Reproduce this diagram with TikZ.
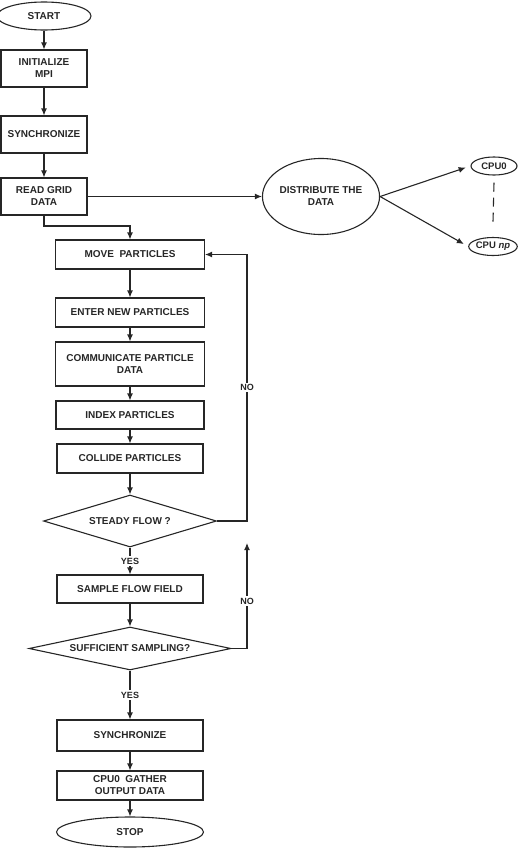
\documentclass[tikz,border=0pt]{standalone}
\usepackage{fontspec}
\setmainfont{Liberation Sans}
\usetikzlibrary{shapes.geometric,arrows.meta}

\begin{document}
\begin{tikzpicture}[x=1pt, y=-1pt, line width=1.1pt, color=black!85,
  every node/.style={font=\fontsize{10}{12}\selectfont\bfseries, align=center},
  box/.style={draw, rectangle, inner sep=0pt},
  term/.style={draw, ellipse, inner sep=0pt},
  decide/.style={draw, diamond, inner sep=0pt},
  arr/.style={-{Latex[length=7pt,width=6pt]}},
  lbl/.style={fill=white, inner sep=1.5pt, font=\fontsize{9}{11}\selectfont\bfseries}]
  \useasboundingbox (0,0) rectangle (519,857);

  \node[term, minimum width=94pt, minimum height=28pt] (start) at (44,16) {START};
  \node[box, minimum width=86pt, minimum height=37pt] (init) at (44,68.5) {INITIALIZE\\MPI};
  \node[box, minimum width=86pt, minimum height=37pt] (syncA) at (44,134.5) {SYNCHRONIZE};
  \node[box, minimum width=86pt, minimum height=37pt] (read) at (44,196.5) {READ GRID\\DATA};
  \coordinate (bend) at (44,226);

  \node[term, minimum width=102pt, minimum height=76pt] (dist) at (321,196.5) {DISTRIBUTE THE\\DATA};
  \node[term, minimum width=46pt, minimum height=18pt, font=\fontsize{9.5}{11}\selectfont\bfseries] (cpuA) at (494,166) {CPU0};
  \node[term, minimum width=48pt, minimum height=18pt, font=\fontsize{9.5}{11}\selectfont\bfseries] (cpuB) at (493,246.5) {CPU \textit{np}};

  \node[box, minimum width=149pt, minimum height=29pt] (move) at (130,254.5) {MOVE\ \ PARTICLES};
  \node[box, minimum width=149pt, minimum height=29pt] (enter) at (130,312.5) {ENTER NEW PARTICLES};
  \node[box, minimum width=149pt, minimum height=44pt] (comm) at (130,364) {COMMUNICATE PARTICLE\\DATA};
  \node[box, minimum width=148pt, minimum height=28pt] (index) at (130,415) {INDEX PARTICLES};
  \node[box, minimum width=146pt, minimum height=29pt] (collide) at (130,458.5) {COLLIDE PARTICLES};
  \node[decide, aspect=3.3, minimum width=173pt, minimum height=52pt] (steady) at (130,521) {STEADY FLOW ?};
  \node[box, minimum width=146pt, minimum height=28pt] (sample) at (130,589) {SAMPLE FLOW FIELD};
  \node[decide, aspect=4.7, minimum width=202pt, minimum height=43pt] (suff) at (130,648.5) {SUFFICIENT SAMPLING?};
  \node[box, minimum width=146pt, minimum height=31pt] (syncB) at (130,735.5) {SYNCHRONIZE};
  \node[box, minimum width=146pt, minimum height=29pt] (gather) at (130,785.5) {CPU0\ \ GATHER\\OUTPUT DATA};
  \node[term, minimum width=147pt, minimum height=30pt] (stop) at (130,832) {STOP};

  \coordinate (loopA) at (247,521);
  \coordinate (loopC) at (247,648.5);
  \coordinate (loopD) at (247,543);

  \draw[arr] (start) -- (init);
  \draw[arr] (init) -- (syncA);
  \draw[arr] (syncA) -- (read);
  \draw[arr] (read.south) -- (bend) -| (move.north);
  \draw[arr] (read.east) -- (dist.west);
  \draw[arr, shorten >=5pt] (dist.east) -- (cpuA.west);
  \draw[arr, shorten >=5pt] (dist.east) -- (cpuB.west);
  \draw[dash pattern=on 9pt off 6pt] ([yshift=-7pt]cpuA.south) -- ([yshift=15pt]cpuB.north);

  \draw[arr] (move) -- (enter);
  \draw[arr] (enter) -- (comm);
  \draw[arr] (comm) -- (index);
  \draw[arr] (index) -- (collide);
  \draw[arr] (collide) -- (steady);
  \draw[arr] (steady) -- node[lbl] {YES} (sample);
  \draw[arr] (steady.east) -- (loopA) -- node[lbl] {NO} (loopA |- move.east) -- (move.east);
  \draw[arr] (sample) -- (suff);
  \draw[arr] (suff.east) -- (loopC) -- node[lbl, pos=0.45] {NO} (loopD);
  \draw[arr] (suff) -- node[lbl] {YES} (syncB);
  \draw[arr] (syncB) -- (gather);
  \draw[arr] (gather) -- (stop);
\end{tikzpicture}
\end{document}
